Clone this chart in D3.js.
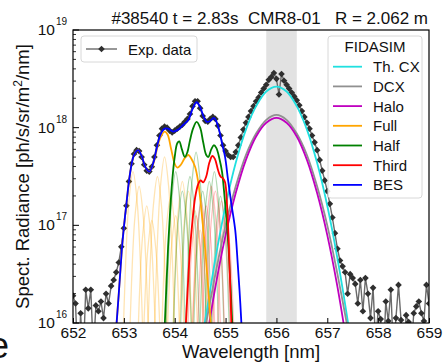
<!DOCTYPE html>
<html>
<head>
<meta charset="utf-8">
<script src="https://cdn.jsdelivr.net/npm/d3@7"></script>
<style>
  body { margin: 0; background: #fff; }
  svg { display: block; font-family: "Liberation Sans", Arial, sans-serif; }
</style>
</head>
<body>
<svg id="chart" width="443" height="363"></svg>
<script>
// values are log10 of the spectral radiance
const titleText = "#38540 t = 2.83s  CMR8-01   R = 2.062 m";
const xTicks = [652, 653, 654, 655, 656, 657, 658, 659];
const yTicks = [16, 17, 18, 19];
const band = [655.8, 656.4];

const expData = [
  [652.00,16.28],[652.05,16.20],[652.10,15.50],[652.15,16.10],[652.20,15.60],[652.25,16.34],
  [652.30,16.15],[652.35,16.34],[652.40,15.70],[652.45,16.18],[652.50,16.12],[652.55,16.22],
  [652.60,16.05],[652.65,16.30],[652.70,16.20],[652.75,16.38],[652.80,16.44],[652.85,16.52],
  [652.90,16.62],[652.95,16.78],[653.00,16.97],[653.05,17.20],[653.10,17.45],[653.15,17.63],
  [653.20,17.73],[653.25,17.77],[653.30,17.76],[653.35,17.70],[653.40,17.62],[653.45,17.56],
  [653.50,17.55],[653.55,17.60],[653.60,17.70],[653.65,17.82],[653.70,17.92],[653.75,17.99],
  [653.80,18.01],[653.85,18.00],[653.90,17.97],[653.95,17.95],[654.00,17.97],[654.05,17.99],
  [654.10,18.01],[654.15,18.03],[654.20,18.06],[654.25,18.09],[654.30,18.14],[654.35,18.22],
  [654.40,18.27],[654.45,18.27],[654.50,18.20],[654.55,18.12],[654.60,18.07],[654.65,18.06],
  [654.70,18.09],[654.75,18.11],[654.80,18.09],[654.85,18.02],[654.90,17.92],[654.95,17.82],
  [655.00,17.76],[655.05,17.72],[655.10,17.70],[655.15,17.70],[655.20,17.75],[655.25,17.82],
  [655.30,17.90],[655.35,17.98],[655.40,18.05],[655.45,18.11],[655.50,18.17],[655.55,18.22],
  [655.60,18.27],[655.65,18.31],[655.70,18.36],[655.75,18.40],[655.80,18.44],[655.85,18.49],
  [655.90,18.52],[655.95,18.56],[656.00,18.50],[656.05,18.34],[656.10,18.55],[656.15,18.48],
  [656.20,18.44],[656.25,18.40],[656.30,18.36],[656.35,18.32],[656.40,18.28],[656.45,18.23],
  [656.50,18.17],[656.55,18.11],[656.60,18.05],[656.65,17.99],[656.70,17.92],[656.75,17.85],
  [656.80,17.77],[656.85,17.67],[656.90,17.56],[656.95,17.46],[657.00,17.35],[657.05,17.22],
  [657.10,17.08],[657.15,16.92],[657.20,16.76],[657.25,16.64],[657.30,16.58],[657.35,16.52],
  [657.40,16.30],[657.45,16.50],[657.50,16.46],[657.55,16.40],[657.60,16.20],[657.65,16.44],
  [657.70,16.12],[657.75,16.46],[657.80,16.30],[657.85,16.05],[657.90,16.36],[657.95,15.80],
  [658.00,16.12],[658.05,16.04],[658.10,15.60],[658.15,16.22],[658.20,16.02],[658.25,16.34],
  [658.30,15.70],[658.35,16.05],[658.40,16.39],[658.45,16.03],[658.50,15.60],[658.55,16.08],
  [658.60,16.01],[658.65,15.70],[658.70,16.10],[658.75,16.17],[658.80,16.22],[658.85,16.10],
  [658.90,16.02],[658.95,16.39],[659.00,16.20]
];

const thCX = [[654.55,15.90],[654.60,16.03],[654.80,16.66],[655.00,17.20],[655.20,17.64],[655.40,17.98],
  [655.60,18.22],[655.80,18.37],[656.00,18.42],[656.20,18.37],[656.40,18.22],[656.60,17.98],
  [656.80,17.64],[657.00,17.20],[657.20,16.66],[657.40,16.03],[657.45,15.85]];
const dcx = [[654.60,15.95],[654.80,16.50],[655.00,17.00],[655.20,17.40],[655.40,17.72],[655.60,17.94],
  [655.80,18.08],[656.00,18.13],[656.20,18.08],[656.40,17.94],[656.60,17.72],[656.80,17.40],
  [657.00,17.00],[657.20,16.50],[657.40,15.95]];
const halo = [[654.65,15.90],[654.80,16.37],[655.00,16.90],[655.20,17.33],[655.40,17.67],[655.60,17.91],
  [655.80,18.05],[656.00,18.10],[656.20,18.05],[656.40,17.91],[656.60,17.67],[656.80,17.33],
  [657.00,16.90],[657.20,16.37],[657.35,15.90]];
const full = [[652.80,15.60],[652.90,16.30],[652.96,16.75],[653.00,16.98],[653.05,17.22],[653.10,17.45],
  [653.15,17.62],[653.20,17.72],[653.28,17.77],[653.35,17.71],[653.42,17.60],[653.50,17.55],
  [653.58,17.63],[653.65,17.78],[653.72,17.90],[653.80,17.96],[653.86,17.93],[653.93,17.78],
  [654.00,17.63],[654.05,17.59],[654.12,17.62],[654.20,17.69],[654.27,17.72],[654.33,17.68],
  [654.40,17.60],[654.46,17.45],[654.53,17.13],[654.60,16.75],[654.66,16.35],[654.72,15.90]];
const half = [[653.79,15.80],[653.83,16.30],[653.87,16.78],[653.91,17.15],[653.95,17.45],[654.00,17.70],
  [654.05,17.84],[654.09,17.86],[654.14,17.78],[654.20,17.70],[654.25,17.75],[654.30,17.87],
  [654.36,17.99],[654.43,18.06],[654.50,18.00],[654.56,17.85],[654.62,17.72],[654.66,17.70],
  [654.72,17.78],[654.77,17.82],[654.82,17.79],[654.88,17.68],[654.93,17.55],[654.97,17.35],
  [655.02,17.05],[655.06,16.75],[655.10,16.35],[655.14,15.90]];
const third = [[654.20,15.80],[654.25,16.30],[654.30,16.75],[654.35,17.05],[654.40,17.28],[654.46,17.42],
  [654.51,17.46],[654.56,17.44],[654.62,17.50],[654.68,17.64],[654.74,17.71],[654.79,17.68],
  [654.85,17.57],[654.90,17.50],[654.95,17.48],[654.99,17.44],[655.03,17.20],[655.06,16.85],
  [655.09,16.40],[655.12,15.90]];
const bes = [[652.80,15.60],[652.90,16.30],[652.96,16.75],[653.00,16.98],[653.05,17.22],[653.10,17.45],
  [653.15,17.62],[653.20,17.72],[653.28,17.77],[653.35,17.71],[653.42,17.60],[653.50,17.55],
  [653.58,17.64],[653.65,17.80],[653.72,17.93],[653.80,17.99],[653.87,17.99],[653.97,17.96],
  [654.07,17.98],[654.17,18.03],[654.27,18.08],[654.35,18.19],[654.43,18.26],[654.50,18.21],
  [654.57,18.11],[654.63,18.06],[654.70,18.07],[654.77,18.10],[654.83,18.05],[654.88,17.96],
  [654.93,17.84],[654.99,17.70],[655.05,17.46],[655.12,17.20],[655.19,16.95],[655.24,16.60],
  [655.29,16.20],[655.33,15.80]];

// single Stark components: [centre, peak]; all share the instrument line shape below
const fullLines = [[653.18,17.55],[653.30,17.40],[653.45,17.20],[653.55,17.05],[653.66,17.50],[653.80,17.70],
  [653.92,17.30],[654.02,17.10],[654.15,17.45],[654.27,17.35],[654.40,17.15],[654.50,16.95]];
const halfLines = [[654.02,17.55],[654.15,17.35],[654.30,17.50],[654.42,17.75],[654.55,17.35],[654.68,17.45],
  [654.78,17.55],[654.90,17.30]];
const thirdLines = [[654.42,17.10],[654.52,17.25],[654.62,17.20],[654.72,17.40],[654.80,17.35],[654.92,17.25],
  [655.00,17.10]];
const lineShape = [[-0.21,-2.0],[-0.15,-1.0],[-0.08,-0.3],[0,0],[0.08,-0.3],[0.15,-1.0],[0.21,-2.0]];

const svg = d3.select("#chart");
const margin = { top: 30, right: 14, bottom: 40, left: 73 };
const width = 443 - margin.left - margin.right;
const height = 363 - margin.top - margin.bottom;

const g = svg.append("g").attr("transform", `translate(${margin.left},${margin.top})`);

const x = d3.scaleLinear().domain([652, 659]).range([0, width]);
const y = d3.scaleLog().domain([1e16, 1e19]).range([height, 0]);

svg.append("defs").append("clipPath").attr("id", "clip")
  .append("rect").attr("width", width).attr("height", height);

const plot = g.append("g").attr("clip-path", "url(#clip)");

plot.append("rect")
  .attr("x", x(band[0])).attr("width", x(band[1]) - x(band[0]))
  .attr("y", 0).attr("height", height)
  .attr("fill", "#e2e2e2");

const line = d3.line()
  .x(d => x(d[0]))
  .y(d => y(Math.pow(10, d[1])))
  .curve(d3.curveCatmullRom);

// experimental data
plot.append("path")
  .datum(expData)
  .attr("d", d3.line().x(d => x(d[0])).y(d => y(Math.pow(10, d[1]))))
  .attr("fill", "none").attr("stroke", "#6a6a6a").attr("stroke-width", 1.4);

plot.selectAll(".pt")
  .data(expData)
  .enter().append("path")
  .attr("class", "pt")
  .attr("d", d3.symbol(d3.symbolSquare, 22))
  .attr("transform", d => `translate(${x(d[0])},${y(Math.pow(10, d[1]))}) rotate(45)`)
  .attr("fill", "#2f2f2f");

// faint single components
function drawLines(list, color) {
  list.forEach(c => {
    plot.append("path")
      .datum(lineShape.map(s => [c[0] + s[0], c[1] + s[1]]))
      .attr("d", line)
      .attr("fill", "none").attr("stroke", color)
      .attr("stroke-width", 1.3).attr("stroke-opacity", 0.3);
  });
}
drawLines(fullLines, "#ffa500");
drawLines(halfLines, "#008000");
drawLines(thirdLines, "#ff3030");

const series = [
  { name: "Th. CX", data: thCX, color: "#20e0e0" },
  { name: "DCX", data: dcx, color: "#909090" },
  { name: "Halo", data: halo, color: "#bf00bf" },
  { name: "Full", data: full, color: "#ffa500" },
  { name: "Half", data: half, color: "#008000" },
  { name: "Third", data: third, color: "#ff0000" },
  { name: "BES", data: bes, color: "#0000ff" }
];

series.forEach(s => {
  plot.append("path")
    .datum(s.data)
    .attr("d", line)
    .attr("fill", "none").attr("stroke", s.color).attr("stroke-width", 1.8);
});

// axes
g.append("g")
  .attr("transform", `translate(0,${height})`)
  .call(d3.axisBottom(x).tickValues(xTicks).tickFormat(d3.format("d")).tickSize(-5).tickPadding(4))
  .call(a => a.select(".domain").remove())
  .selectAll("text").attr("font-size", 15.5).attr("fill", "#111");

const minor = [];
yTicks.slice(0, -1).forEach(e => { for (let k = 2; k < 10; k++) minor.push(k * Math.pow(10, e)); });
g.selectAll(".minor")
  .data(minor)
  .enter().append("line")
  .attr("x1", 0).attr("x2", 3)
  .attr("y1", d => y(d)).attr("y2", d => y(d))
  .attr("stroke", "#000").attr("stroke-width", 0.8);

g.selectAll(".major")
  .data(yTicks)
  .enter().append("line")
  .attr("x1", 0).attr("x2", 6)
  .attr("y1", d => y(Math.pow(10, d))).attr("y2", d => y(Math.pow(10, d)))
  .attr("stroke", "#000").attr("stroke-width", 1);

const yl = g.selectAll(".ylab").data(yTicks).enter().append("g")
  .attr("transform", d => `translate(-18,${y(Math.pow(10, d))})`);
yl.append("text").text("10").attr("text-anchor", "end").attr("y", 5).attr("font-size", 15.5).attr("fill", "#111");
yl.append("text").text(d => d).attr("x", 1).attr("y", -5).attr("font-size", 10).attr("fill", "#111");

g.append("rect")
  .attr("width", width).attr("height", height)
  .attr("fill", "none").attr("stroke", "#000").attr("stroke-width", 1.2);

// titles
svg.append("text")
  .attr("x", 428).attr("y", 24)
  .attr("text-anchor", "end")
  .attr("font-size", 17)
  .style("white-space", "pre")
  .attr("fill", "#111")
  .text(titleText);

svg.append("text")
  .attr("x", margin.left + width / 2).attr("y", 358)
  .attr("text-anchor", "middle").attr("font-size", 18.5).attr("fill", "#111")
  .text("Wavelength [nm]");

const ylab = svg.append("text")
  .attr("transform", `translate(29,${margin.top + height / 2}) rotate(-90)`)
  .attr("text-anchor", "middle").attr("font-size", 18.5).attr("fill", "#111");
ylab.append("tspan").text("Spect. Radiance [ph/s/sr/m");
ylab.append("tspan").text("2").attr("font-size", 12).attr("dy", -7);
ylab.append("tspan").text("/nm]").attr("dy", 7);

// clipped panel letter from the neighbouring figure
svg.append("text").attr("x", -11).attr("y", 358).attr("font-size", 36).attr("fill", "#111").text("e");

// legend: experiment
const leg1 = svg.append("g").attr("transform", "translate(81,36)");
leg1.append("rect").attr("width", 116).attr("height", 26).attr("rx", 3)
  .attr("fill", "#fff").attr("fill-opacity", 0.85).attr("stroke", "#d8d8d8");
leg1.append("line").attr("x1", 5).attr("x2", 36).attr("y1", 13).attr("y2", 13)
  .attr("stroke", "#6a6a6a").attr("stroke-width", 1.4);
leg1.append("path").attr("d", d3.symbol(d3.symbolSquare, 22))
  .attr("transform", "translate(20.5,13) rotate(45)").attr("fill", "#2f2f2f");
leg1.append("text").attr("x", 47).attr("y", 18.5).attr("font-size", 15).attr("fill", "#111").text("Exp. data");

// legend: FIDASIM
const leg2 = svg.append("g").attr("transform", "translate(328,36)");
leg2.append("rect").attr("width", 94).attr("height", 162).attr("rx", 3)
  .attr("fill", "#fff").attr("fill-opacity", 0.85).attr("stroke", "#d8d8d8");
leg2.append("text").attr("x", 47).attr("y", 16).attr("text-anchor", "middle")
  .attr("font-size", 15).attr("fill", "#111").text("FIDASIM");
const items = leg2.selectAll(".item").data(series).enter().append("g")
  .attr("transform", (d, i) => `translate(0,${30.7 + i * 19.7})`);
items.append("line").attr("x1", 5).attr("x2", 34)
  .attr("stroke", d => d.color).attr("stroke-width", 1.8);
items.append("text").attr("x", 45).attr("y", 5.5).attr("font-size", 15).attr("fill", "#111").text(d => d.name);
</script>
</body>
</html>
